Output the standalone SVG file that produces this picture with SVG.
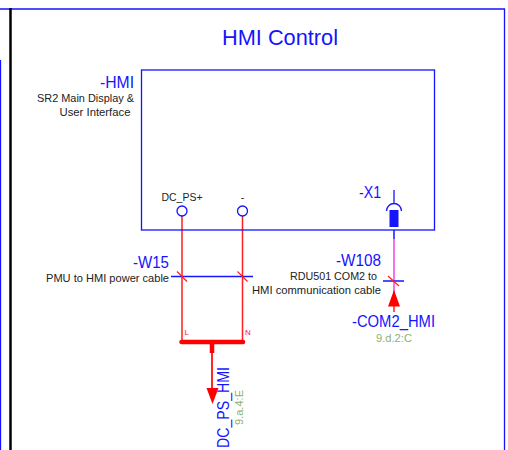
<svg xmlns="http://www.w3.org/2000/svg" width="508" height="450" viewBox="0 0 508 450">
<style>
text{font-family:"Liberation Sans",Arial,sans-serif}
.b{fill:#1414ff}
.k{fill:#222;font-size:11px}
.g{fill:#8fb070;font-size:11px}
.r{fill:#ff2020;font-size:8px}
.bl{stroke:#1414ff;fill:none;stroke-width:1.300}
.rd{stroke:#ff2020;fill:none;stroke-width:1.500}
.t{font-size:16px}
</style>
<rect width="508" height="450" fill="#fff"/>
<g id="frame">
<path class="bl" d="M0 9H504.500V450"/>
<path class="bl" d="M0.500 60V450"/>
<path d="M10.500 8V450" stroke="#000" stroke-width="2.500" fill="none"/>
</g>
<text class="b" x="280" y="45" font-size="22" text-anchor="middle" textLength="116" lengthAdjust="spacingAndGlyphs">HMI Control</text>
<g id="connectors">
<path class="rd" d="M182 216V342M242.500 216V342"/>
<path d="M394 230V239" stroke="#1414ff" stroke-width="1.500"/>
<path d="M394 239V291" stroke="#f050e0" stroke-width="1.600"/>
<path d="M394 291V312" stroke="#ff2020" stroke-width="1.500"/>
<path d="M181.500 342H243" stroke="#f00" stroke-width="4.500" stroke-linecap="round"/>
<path d="M212 342V353" stroke="#f00" stroke-width="4.500"/>
<path d="M212 353V390" stroke="#f00" stroke-width="1.700"/>
<path d="M206.500 388H218.500L212.500 404Z" fill="#f00"/>
<path d="M388 306.500H400L394 290Z" fill="#f00"/>
<path class="bl" d="M171 276.500H253M383 281H404"/>
<path class="rd" d="M177 271.500L187 281.500M237.500 271.500L247.500 281.500M388 276L399 286" style="stroke-width:1.200"/>
</g>
<g id="HMI">
<rect x="141.500" y="70" width="293" height="160" class="bl"/>
<text class="b t" x="134" y="88" text-anchor="end" textLength="34" lengthAdjust="spacingAndGlyphs">-HMI</text>
<text class="k" x="134" y="102" text-anchor="end" textLength="97" lengthAdjust="spacingAndGlyphs">SR2 Main Display &amp;</text>
<text class="k" x="130.500" y="116" text-anchor="end" textLength="71" lengthAdjust="spacingAndGlyphs">User Interface</text>
<circle cx="182" cy="211" r="5" class="bl" style="fill:#fff"/>
<circle cx="242.500" cy="211" r="5" class="bl" style="fill:#fff"/>
<text class="k" x="182" y="201" text-anchor="middle" textLength="41" lengthAdjust="spacingAndGlyphs">DC_PS+</text>
<text class="k" x="242.500" y="201" text-anchor="middle">-</text>
</g>
<g id="X1">
<text class="b t" x="381" y="198" text-anchor="end" textLength="22" lengthAdjust="spacingAndGlyphs">-X1</text>
<path class="bl" d="M394 190V203M386.500 211A7.500 7.500 0 0 1 401.500 211"/>
<rect x="389.500" y="210" width="9" height="17" fill="#1414ff"/>
</g>
<g id="W15">
<text class="b t" x="169" y="268" text-anchor="end" textLength="36" lengthAdjust="spacingAndGlyphs">-W15</text>
<text class="k" x="169" y="282" text-anchor="end" textLength="123" lengthAdjust="spacingAndGlyphs">PMU to HMI power cable</text>
<text class="r" x="184.500" y="335">L</text>
<text class="r" x="245" y="335">N</text>
</g>
<g id="W108">
<text class="b t" x="381" y="266" text-anchor="end" textLength="45" lengthAdjust="spacingAndGlyphs">-W108</text>
<text class="k" x="377" y="280" text-anchor="end" textLength="87" lengthAdjust="spacingAndGlyphs">RDU501 COM2 to</text>
<text class="k" x="381" y="294" text-anchor="end" textLength="129" lengthAdjust="spacingAndGlyphs">HMI communication cable</text>
</g>
<g id="COM2_HMI">
<text class="b t" x="435" y="327" text-anchor="end" textLength="83" lengthAdjust="spacingAndGlyphs">-COM2_HMI</text>
<text class="g" x="394" y="342" text-anchor="middle" textLength="36" lengthAdjust="spacingAndGlyphs">9.d.2:C</text>
</g>
<g id="DC_PS_HMI">
<text class="b t" transform="translate(229 448) rotate(-90)" textLength="81" lengthAdjust="spacingAndGlyphs">DC_PS_HMI</text>
<text class="g" transform="translate(243 425) rotate(-90)" textLength="35" lengthAdjust="spacingAndGlyphs">9.a.4:E</text>
</g>
</svg>
